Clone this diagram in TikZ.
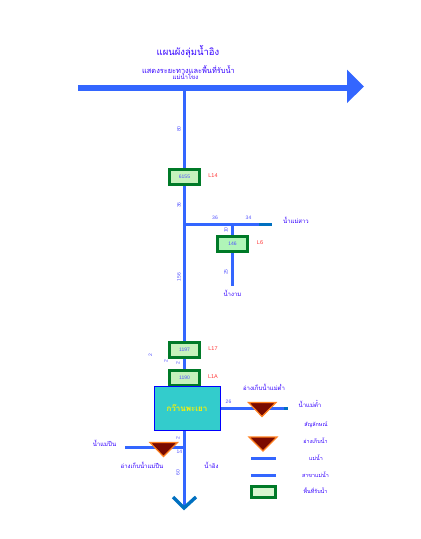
\documentclass[tikz,border=0pt]{standalone}
\usepackage{fontspec}
\newfontfamily\thaifont[Script=Thai]{Loma}
\setmainfont{Liberation Sans}
\usetikzlibrary{calc}
\definecolor{riverblue}{HTML}{3366FF}
\definecolor{riverend}{HTML}{0070C0}
\definecolor{boxgreen}{HTML}{007A28}
\definecolor{boxfill}{HTML}{C6F2BC}
\definecolor{boxfillb}{HTML}{B0F5B8}
\definecolor{lake}{HTML}{33CCCC}
\definecolor{damfill}{HTML}{7A0A00}
\definecolor{damedge}{HTML}{FF8020}
\definecolor{labelblue}{HTML}{3300FF}
\definecolor{numblue}{HTML}{5050FF}
\tikzset{
  river/.style={draw=riverblue,line width=3pt},
  basin/.style={draw=boxgreen,fill=boxfill,line width=2.8pt,minimum width=30.5pt,minimum height=15.5pt,inner sep=0pt,text=numblue,font=\fontsize{5}{6}\selectfont},
  thai/.style={text=labelblue,inner sep=0pt,font=\thaifont\fontsize{6}{7}\selectfont},
  dist/.style={text=numblue,inner sep=0pt,font=\fontsize{5}{6}\selectfont},
  code/.style={text=red!80!white,inner sep=0pt,font=\fontsize{5.5}{6}\selectfont},
  dam/.style={draw=damedge,fill=damfill,line width=1.2pt,line join=miter}
}
\begin{document}
\begin{tikzpicture}[x=1pt,y=-1pt]
\useasboundingbox (0,0) rectangle (421,539);
% anchors
\coordinate (mainL) at (78,87.5);
\coordinate (mainR) at (348,87.5);
\coordinate (mouth) at (184,88);
\coordinate (tribA) at (184,224);
\coordinate (tribAe) at (259,224);
\coordinate (tribAf) at (272,224);
\coordinate (tribBt) at (232,224);
\coordinate (tribBe) at (232,286);
\coordinate (tribCe) at (288,408);
\coordinate (tribCd) at (284,408);
\coordinate (tribDs) at (125,447);
\coordinate (tribDe) at (184,447);
\coordinate (bottom) at (184,508);
\coordinate (chevL) at (173,497);
\coordinate (chevR) at (196,497);
\coordinate (legA1) at (251,458);
\coordinate (legA2) at (276,458);
\coordinate (legB1) at (251,475.5);
\coordinate (legB2) at (276,475.5);
% rivers
\draw[line width=6pt,draw=riverblue] (mainL) -- (mainR);
\fill[riverblue] (347,69.5) -- (364,86.5) -- (347,103) -- cycle;
\draw[river] (mouth) -- (bottom);
\draw[river] (tribA) -- (tribAe);
\draw[draw=riverend,line width=3pt] (tribAe) -- (tribAf);
\draw[river] (tribBt) -- (tribBe);
\draw[river] (220,408) -- (tribCe);
\draw[draw=riverend,line width=3pt] (tribCd) -- (tribCe);
\draw[river] (tribDs) -- (tribDe);
\draw[draw=riverend,line width=3.4pt,line join=miter] (chevL) -- (bottom) -- (chevR);
% boxes
\node[basin] (b1) at (184.5,177) {6155};
\node[basin,fill=boxfillb] (b2) at (232.5,244) {146};
\node[basin] (b3) at (184.5,350) {1197};
\node[basin] (b4) at (184.5,378) {1190};
\node[draw=blue,fill=lake,line width=1pt,minimum width=66pt,minimum height=44pt,inner sep=0pt,text=yellow,font=\thaifont\bfseries\fontsize{8}{9}\selectfont] (lakebox) at (187,408.5) {กว๊านพะเยา};
% dams
\draw[dam] (248.5,402.5) -- (276,402.5) -- (262,416.5) -- cycle;
\draw[dam] (150,442.5) -- (177.5,442.5) -- (163.5,456.5) -- cycle;
\draw[dam] (249,437) -- (277,437) -- (263,451) -- cycle;
% legend
\draw[river] (legA1) -- (legA2);
\draw[river] (legB1) -- (legB2);
\node[draw=boxgreen,fill=boxfill!70!white,line width=2.4pt,minimum width=24pt,minimum height=11pt,inner sep=0pt] (legbox) at (263.5,492) {};
% titles
\node[thai,font=\thaifont\fontsize{9.5}{11}\selectfont] (title) at (188,52) {แผนผังลุ่มน้ำอิง};
\node[thai,font=\thaifont\fontsize{7.4}{8}\selectfont] (sub) at (188.5,69.5) {แสดงระยะทางและพื้นที่รับน้ำ};
\node[thai,font=\thaifont\fontsize{6}{7}\selectfont] (khong) at (185.5,76.5) {แม่น้ำโขง};
% thai labels
\node[thai] (l1) at (296,220) {น้ำแม่สาว};
\node[thai] (l2) at (232.5,293.5) {น้ำงาม};
\node[thai] (l3) at (264,387.5) {อ่างเก็บน้ำแม่ต๋ำ};
\node[thai] (l4) at (310,404) {น้ำแม่ต๋ำ};
\node[thai] (l5) at (104.5,443.5) {น้ำแม่ปืน};
\node[thai] (l6) at (142,465.5) {อ่างเก็บน้ำแม่ปืน};
\node[thai] (l7) at (211.5,465.5) {น้ำอิง};
\node[thai,font=\thaifont\fontsize{5.4}{6}\selectfont] (l8) at (316,424.5) {สัญลักษณ์};
\node[thai,font=\thaifont\fontsize{5.4}{6}\selectfont] (l9) at (315.5,441) {อ่างเก็บน้ำ};
\node[thai,font=\thaifont\fontsize{5.4}{6}\selectfont] (l10) at (316,458) {แม่น้ำ};
\node[thai,font=\thaifont\fontsize{5.4}{6}\selectfont] (l11) at (315.5,475) {สาขาแม่น้ำ};
\node[thai,font=\thaifont\fontsize{5.4}{6}\selectfont] (l12) at (315.5,491) {พื้นที่รับน้ำ};
% codes
\node[code] (c1) at (213,176) {L14};
\node[code] (c2) at (260,243) {L6};
\node[code] (c3) at (213,349) {L17};
\node[code] (c4) at (213,377) {L1A};
% distances
\node[dist,rotate=90] (d1) at (179,129) {80};
\node[dist,rotate=90] (d2) at (179,205) {36};
\node[dist,rotate=90] (d3) at (179,277) {156};
\node[dist] (d4) at (215,218) {36};
\node[dist] (d5) at (248.5,218) {34};
\node[dist,rotate=90] (d6) at (226,230) {10};
\node[dist,rotate=90] (d7) at (226,272) {25};
\node[dist,rotate=90] (d8) at (150.5,355.5) {2};
\node[dist,rotate=90] (d9) at (166,361.5) {2};
\node[dist,rotate=90] (d10) at (178,363.5) {2};
\node[dist] (d11) at (228.5,402) {26};
\node[dist,rotate=90] (d12) at (178,438.5) {2};
\node[dist] (d13) at (179.5,452) {14};
\node[dist,rotate=90] (d14) at (178,472.5) {60};
\end{tikzpicture}
\end{document}
